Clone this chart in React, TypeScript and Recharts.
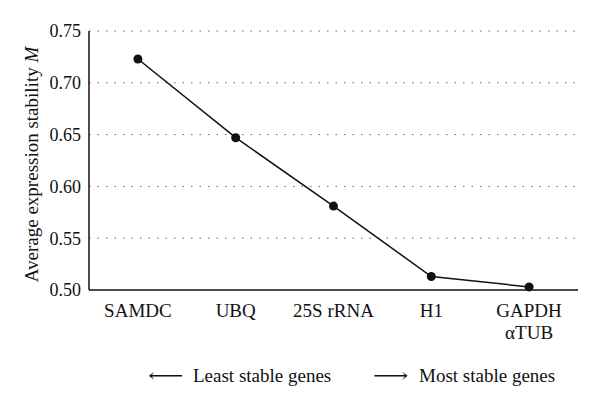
import { CartesianGrid, Line, LineChart, XAxis, YAxis } from "recharts";

const genes = ["SAMDC", "UBQ", "25S rRNA", "H1", "GAPDH\nαTUB"];
const stabilityM = [0.723, 0.647, 0.581, 0.513, 0.503];
const yTicks = [0.5, 0.55, 0.6, 0.65, 0.7, 0.75];

const FONT = '"Liberation Serif", "DejaVu Serif", serif';

const data = genes.map((g, i) => ({ gene: g, m: stabilityM[i] }));

function GeneTick({ x, y, payload }: any) {
  const lines = String(payload.value).split("\n");
  return (
    <text x={x} y={y} textAnchor="middle" fontFamily={FONT} fontSize={19} fill="#111">
      {lines.map((l, i) => (
        <tspan key={i} x={x} dy={i === 0 ? 19 : 22}>
          {l}
        </tspan>
      ))}
    </text>
  );
}

function YLabel({ viewBox }: any) {
  const cx = 38;
  const cy = viewBox.y + viewBox.height / 2 + 4;
  return (
    <text
      x={cx}
      y={cy}
      transform={`rotate(-90 ${cx} ${cy})`}
      textAnchor="middle"
      fontFamily={FONT}
      fontSize={19}
      fill="#111"
    >
      Average expression stability <tspan fontStyle="italic">M</tspan>
    </text>
  );
}

const legendStyle: any = {
  position: "absolute",
  top: 365,
  fontFamily: FONT,
  fontSize: 19,
  color: "#111",
  whiteSpace: "pre",
  lineHeight: "22px",
};

const arrowStyle: any = {
  display: "inline-block",
  width: 32,
  transform: "scaleX(1.3)",
  transformOrigin: "left center",
};

export default function App() {
  return (
    <div style={{ position: "absolute", left: 0, top: 0, width: 600, height: 410, background: "#fff" }}>
      <LineChart
        width={600}
        height={410}
        data={data}
        margin={{ top: 31, right: 22, left: 0, bottom: 90 }}
      >
        <CartesianGrid
          horizontal
          vertical={false}
          stroke="#666"
          strokeDasharray="1.5 7"
          horizontalValues={[0.55, 0.6, 0.65, 0.7, 0.75]}
        />
        <XAxis
          dataKey="gene"
          scale="band"
          interval={0}
          tickLine={false}
          axisLine={{ stroke: "#111", strokeWidth: 1.5 }}
          tick={<GeneTick />}
        />
        <YAxis
          domain={[0.5, 0.75]}
          ticks={yTicks}
          width={89}
          tickLine={false}
          axisLine={{ stroke: "#111", strokeWidth: 1.5 }}
          tickFormatter={(v: number) => v.toFixed(2)}
          tick={{ fontFamily: FONT, fontSize: 18, fill: "#111" }}
          tickMargin={2}
          label={<YLabel />}
        />
        <Line
          type="linear"
          dataKey="m"
          stroke="#111"
          strokeWidth={1.5}
          dot={{ r: 4.5, fill: "#111", stroke: "#111", strokeWidth: 0 }}
          isAnimationActive={false}
        />
      </LineChart>
      <div style={{ ...legendStyle, left: 148 }}>
        <span style={arrowStyle}>⟵</span>
        <span style={{ position: "absolute", left: 45 }}>Least stable genes</span>
      </div>
      <div style={{ ...legendStyle, left: 373 }}>
        <span style={arrowStyle}>⟶</span>
        <span style={{ position: "absolute", left: 46 }}>Most stable genes</span>
      </div>
    </div>
  );
}
